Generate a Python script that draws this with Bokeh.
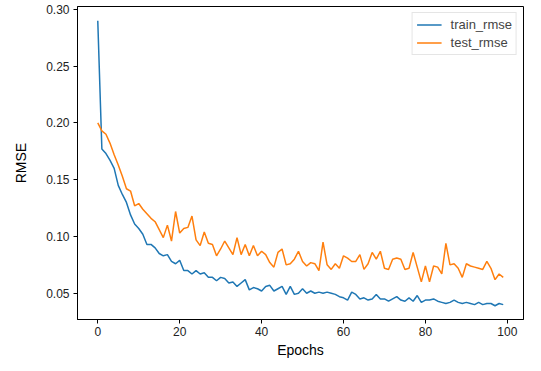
from bokeh.plotting import figure
from bokeh.models import Range1d, FixedTicker, Legend, LegendItem, NumeralTickFormatter
from bokeh.embed import file_html
from bokeh.resources import INLINE

epochs = list(range(100))
train_rmse = [
    0.290, 0.177, 0.173, 0.167, 0.160, 0.145, 0.137, 0.130, 0.119, 0.111,
    0.107, 0.102, 0.093, 0.093, 0.090, 0.085, 0.083, 0.084, 0.078, 0.076,
    0.079, 0.070, 0.070, 0.067, 0.070, 0.067, 0.068, 0.064, 0.064, 0.061,
    0.064, 0.063, 0.059, 0.060, 0.056, 0.059, 0.062, 0.053, 0.055, 0.054,
    0.052, 0.056, 0.057, 0.052, 0.054, 0.056, 0.049, 0.056, 0.049, 0.050,
    0.054, 0.050, 0.052, 0.050, 0.051, 0.050, 0.051, 0.050, 0.049, 0.047,
    0.046, 0.044, 0.051, 0.049, 0.045, 0.046, 0.044, 0.045, 0.049, 0.045,
    0.045, 0.043, 0.045, 0.047, 0.044, 0.043, 0.046, 0.043, 0.048, 0.042,
    0.044, 0.044, 0.045, 0.043, 0.042, 0.041, 0.042, 0.044, 0.042, 0.041,
    0.042, 0.041, 0.040, 0.042, 0.040, 0.041, 0.041, 0.039, 0.041, 0.040,
]
test_rmse = [
    0.200, 0.193, 0.190, 0.182, 0.172, 0.163, 0.153, 0.142, 0.140, 0.127,
    0.129, 0.124, 0.120, 0.116, 0.113, 0.106, 0.099, 0.110, 0.096, 0.122,
    0.103, 0.107, 0.108, 0.118, 0.097, 0.092, 0.104, 0.094, 0.093, 0.083,
    0.089, 0.096, 0.090, 0.084, 0.099, 0.084, 0.093, 0.083, 0.092, 0.083,
    0.087, 0.084, 0.077, 0.073, 0.086, 0.089, 0.075, 0.076, 0.080, 0.087,
    0.078, 0.074, 0.077, 0.076, 0.070, 0.095, 0.075, 0.071, 0.076, 0.072,
    0.083, 0.081, 0.078, 0.078, 0.084, 0.071, 0.076, 0.086, 0.080, 0.087,
    0.072, 0.071, 0.080, 0.081, 0.080, 0.071, 0.072, 0.086, 0.073, 0.060,
    0.074, 0.060, 0.074, 0.073, 0.067, 0.094, 0.075, 0.076, 0.072, 0.064,
    0.076, 0.074, 0.073, 0.072, 0.071, 0.078, 0.072, 0.062, 0.067, 0.064,
]
x_ticks = [0, 20, 40, 60, 80, 100]
y_ticks = [0.05, 0.10, 0.15, 0.20, 0.25, 0.30]

FONT = "Liberation Sans"

p = figure(width=525, height=360, output_backend="svg", toolbar_location=None,
           x_range=Range1d(-4.95, 103.95), y_range=Range1d(0.0269, 0.3025),
           min_border_left=77, min_border_right=2, min_border_top=6, min_border_bottom=40)
p.background_fill_color = "white"
p.border_fill_color = "white"
p.outline_line_color = "black"
p.outline_line_width = 1
p.grid.visible = False

r1 = p.line(epochs, train_rmse, line_color="#1f77b4", line_width=1.5)
r2 = p.line(epochs, test_rmse, line_color="#ff7f0e", line_width=1.5)

for ax in (p.xaxis[0], p.yaxis[0]):
    ax.axis_line_color = "black"
    ax.major_tick_line_color = "black"
    ax.major_tick_in = 0
    ax.major_tick_out = 4
    ax.minor_tick_line_color = None
    ax.major_label_text_font = FONT
    ax.major_label_text_font_size = "12px"
    ax.major_label_text_color = "#222222"
    ax.axis_label_text_font = FONT
    ax.axis_label_text_font_size = "14px"
    ax.axis_label_text_font_style = "normal"
    ax.axis_label_text_color = "black"

p.xaxis.major_label_standoff = 3
p.xaxis.axis_label_standoff = 3
p.yaxis.major_label_standoff = 4
p.yaxis.axis_label_standoff = 14

p.xaxis.ticker = FixedTicker(ticks=x_ticks)
p.yaxis.ticker = FixedTicker(ticks=y_ticks)
p.yaxis.formatter = NumeralTickFormatter(format="0.00")
p.xaxis.axis_label = "Epochs"
p.yaxis.axis_label = "RMSE"

legend = Legend(items=[LegendItem(label="train_rmse", renderers=[r1]),
                       LegendItem(label="test_rmse", renderers=[r2])],
                location="top_right")
legend.label_text_font = FONT
legend.label_text_font_size = "13px"
legend.border_line_color = "#cccccc"
legend.border_line_width = 1
legend.background_fill_alpha = 0.8
legend.glyph_width = 25
legend.glyph_height = 15
legend.label_height = 15
legend.label_standoff = 9
legend.spacing = 3
legend.padding = 4
legend.margin = 6
p.add_layout(legend)

open("out.html", "w").write(file_html(p, INLINE))
